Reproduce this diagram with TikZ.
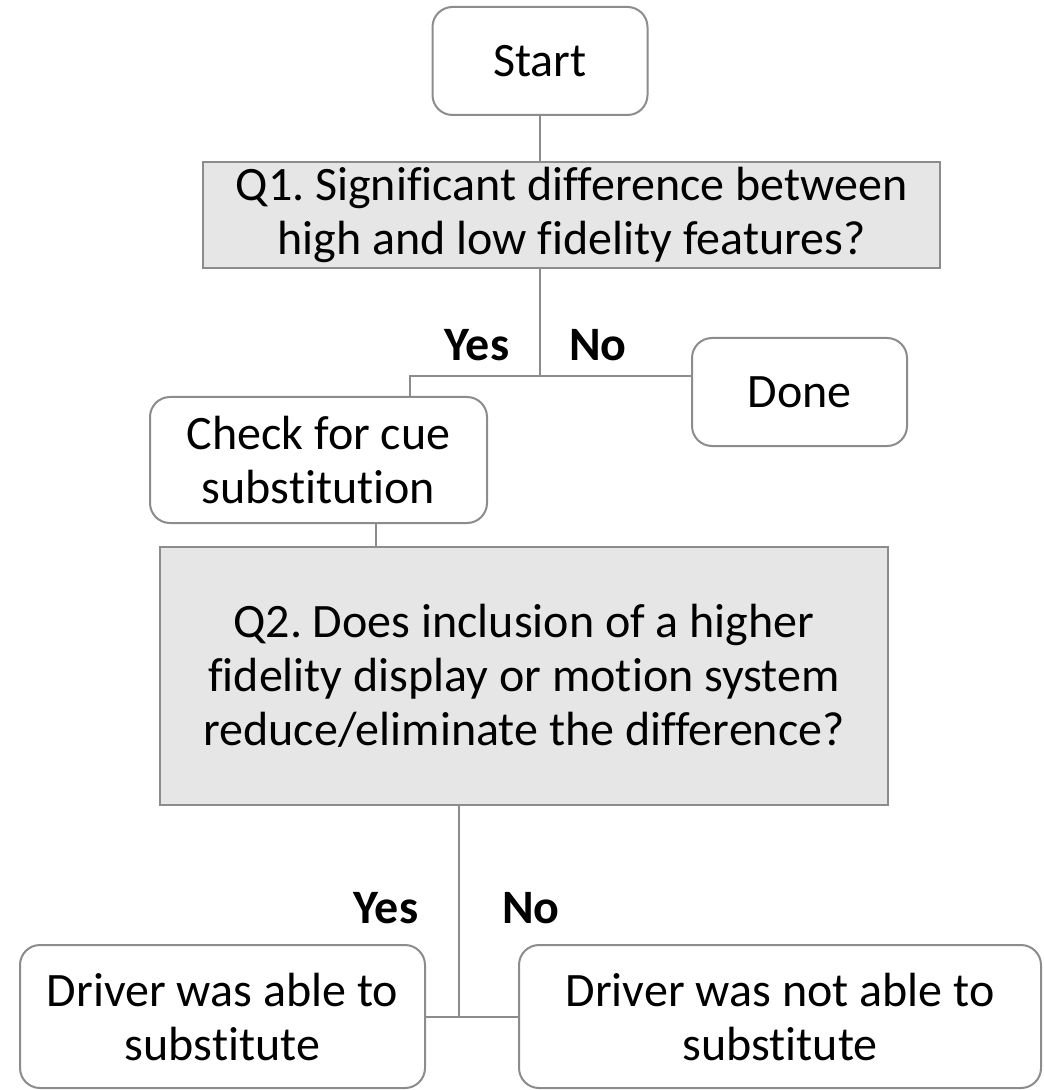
\documentclass[tikz,border=0pt]{standalone}
\usepackage{fontspec}
\setmainfont[Ligatures=NoCommon]{Carlito}
\frenchspacing
\usetikzlibrary{positioning, calc}
\definecolor{linegray}{HTML}{8C8C8C}
\definecolor{boxgray}{HTML}{E6E6E6}

\begin{document}
\begin{tikzpicture}[x=0.5pt, y=-0.5pt,
    every node/.style={font=\fontsize{24}{27}\selectfont, align=center, inner sep=0pt},
    term/.style={draw=linegray, line width=1pt, rounded corners=10pt, fill=white},
    question/.style={draw=linegray, line width=1pt, fill=boxgray},
    link/.style={draw=linegray, line width=1pt},
    answer/.style={font=\fontsize{24}{27}\selectfont\bfseries}]

\useasboundingbox (0, 0) rectangle (1043, 1090);

% boxes
\node[term, minimum width=107.5pt, minimum height=54pt] (start) at (540, 61) {Start};
\node[question, minimum width=368.5pt, minimum height=53pt] (q1) at (571.5, 215)
    {Q1. Significant difference between\\high and low fidelity features?};
\node[term, minimum width=107.5pt, minimum height=54pt] (done) at (799.5, 392) {Done};
\node[term, minimum width=168.5pt, minimum height=63pt] (check) at (318.5, 460)
    {Check for cue\\substitution};
\node[question, minimum width=364pt, minimum height=129pt] (q2) at (524, 676)
    {Q2. Does inclusion of a higher\\fidelity display or motion system\\reduce/eliminate the difference?};
\node[term, minimum width=202.5pt, minimum height=71.5pt] (able) at (222.5, 1016.5)
    {Driver was able to\\substitute};
\node[term, minimum width=261pt, minimum height=71.5pt] (notable) at (780, 1016.5)
    {Driver was not able to\\substitute};

% answers
\node[answer] (yes1) at (477, 345) {Yes};
\node[answer] (no1) at (598, 345) {No};
\node[answer] (yes2) at (386, 908) {Yes};
\node[answer] (no2) at (531, 908) {No};

% connectors
\coordinate (split1) at (540, 376);
\coordinate (turn1) at (410, 376);
\coordinate (split2) at (459, 1018);
\draw[link] (start.south) -- (start.south |- q1.north);
\draw[link] ([xshift=-15.75pt]q1.south) -- (split1);
\draw[link] (split1) -- (turn1) -- (turn1 |- check.north);
\draw[link] (split1) -- (split1 -| done.west);
\draw[link] ([xshift=28.75pt]check.south) -- ([xshift=28.75pt]check.south |- q2.north);
\draw[link] ([xshift=-32.5pt]q2.south) -- (split2);
\draw[link] (able.east) -- (notable.west);
\end{tikzpicture}
\end{document}
